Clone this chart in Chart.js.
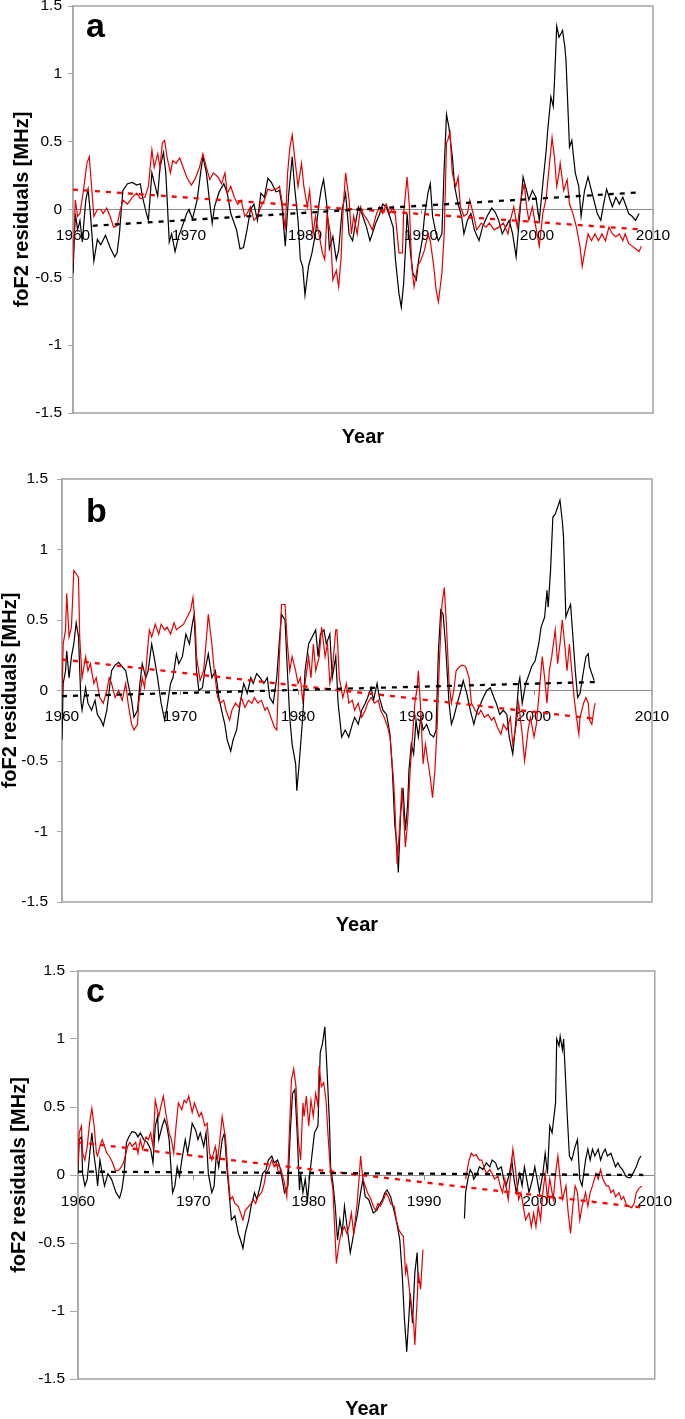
<!DOCTYPE html>
<html><head><meta charset="utf-8">
<script src="https://cdn.jsdelivr.net/npm/chart.js@4.4.1/dist/chart.umd.min.js"></script>
<style>
html,body{margin:0;padding:0;background:#fff;}
#wrap{position:relative;width:685px;height:1419px;overflow:hidden;}
canvas{position:absolute;left:0;}
</style></head><body>
<div id="wrap">
<canvas id="ca" width="685" height="460" style="top:0px"></canvas>
<canvas id="cb" width="685" height="470" style="top:470px"></canvas>
<canvas id="cc" width="685" height="479" style="top:940px"></canvas>
</div>
<script>
const xTickValues = [1960,1970,1980,1990,2000,2010];
const xTickLabels = ['1960','1970','1980','1990','2000','2010'];
const yTickValues = [-1.5,-1,-0.5,0,0.5,1,1.5];
const yTickLabels = ['-1.5','-1','-0.5','0','0.5','1','1.5'];
const panelLetters = ['a','b','c'];
const yTitle = 'foF2 residuals [MHz]';
const xTitle = 'Year';

// Panel a  [year, residual MHz]
const aBlack = [[1960.0,-0.47],[1960.2,-0.03],[1960.4,-0.15],[1960.6,-0.08],[1960.8,-0.24],[1961.1,0.07],[1961.3,0.15],[1961.5,-0.03],[1961.8,-0.38],[1962.1,-0.22],[1962.4,-0.26],[1962.8,-0.19],[1963.2,-0.28],[1963.6,-0.35],[1963.8,-0.32],[1964.0,-0.18],[1964.3,0.14],[1964.7,0.19],[1965.1,0.2],[1965.5,0.18],[1965.8,0.19],[1966.0,0.09],[1966.3,-0.02],[1966.5,-0.08],[1966.8,0.27],[1967.0,0.2],[1967.3,0.1],[1967.5,0.31],[1967.8,0.42],[1968.0,0.27],[1968.3,-0.24],[1968.5,-0.18],[1968.8,-0.31],[1969.1,-0.2],[1969.4,-0.13],[1969.8,-0.03],[1970.0,0.0],[1970.3,-0.07],[1970.7,0.07],[1971.0,0.27],[1971.2,0.39],[1971.5,0.27],[1971.8,0.04],[1972.0,-0.1],[1972.2,0.02],[1972.6,0.13],[1973.0,0.19],[1973.3,0.12],[1973.6,-0.03],[1974.1,-0.15],[1974.4,-0.29],[1974.7,-0.28],[1975.0,-0.15],[1975.3,0.0],[1975.6,0.04],[1975.9,-0.08],[1976.2,0.12],[1976.5,0.09],[1976.8,0.23],[1977.1,0.2],[1977.5,0.13],[1977.8,0.14],[1978.0,0.04],[1978.3,-0.27],[1978.6,0.12],[1978.9,0.39],[1979.1,0.17],[1979.4,-0.08],[1979.6,-0.37],[1979.8,-0.42],[1980.0,-0.63],[1980.3,-0.42],[1980.6,-0.32],[1980.9,-0.18],[1981.2,0.04],[1981.4,0.15],[1981.6,0.22],[1981.9,0.02],[1982.1,-0.29],[1982.4,-0.2],[1982.7,-0.37],[1982.9,-0.3],[1983.2,0.0],[1983.5,0.12],[1983.8,-0.18],[1984.1,-0.23],[1984.3,-0.13],[1984.6,0.02],[1984.9,-0.03],[1985.3,-0.13],[1985.6,-0.23],[1985.8,-0.18],[1986.1,-0.1],[1986.4,-0.04],[1986.7,0.04],[1987.0,0.02],[1987.3,-0.05],[1987.6,-0.13],[1987.8,-0.37],[1988.1,-0.62],[1988.3,-0.72],[1988.5,-0.55],[1988.7,-0.23],[1988.8,-0.03],[1989.1,-0.32],[1989.3,-0.47],[1989.6,-0.52],[1989.8,-0.37],[1990.1,-0.23],[1990.3,-0.05],[1990.6,0.12],[1990.8,0.19],[1991.0,-0.05],[1991.3,-0.18],[1991.5,-0.23],[1991.8,-0.18],[1992.0,0.31],[1992.2,0.7],[1992.4,0.61],[1992.7,0.39],[1992.9,0.17],[1993.2,0.04],[1993.5,-0.05],[1993.7,-0.18],[1994.0,-0.08],[1994.3,-0.03],[1994.6,-0.15],[1995.0,-0.23],[1995.3,-0.13],[1995.7,-0.05],[1996.1,0.01],[1996.4,-0.02],[1996.7,-0.08],[1997.0,-0.18],[1997.3,-0.13],[1997.6,-0.08],[1997.9,-0.18],[1998.2,-0.35],[1998.5,-0.05],[1998.8,0.24],[1999.1,0.14],[1999.3,0.07],[1999.6,0.14],[1999.9,0.09],[2000.2,-0.08],[2000.5,0.19],[2000.8,0.44],[2000.9,0.56],[2001.2,0.83],[2001.4,0.76],[2001.5,0.93],[2001.7,1.35],[2001.9,1.27],[2002.2,1.32],[2002.4,1.2],[2002.5,1.1],[2002.8,0.46],[2003.0,0.51],[2003.3,0.27],[2003.6,0.17],[2003.8,-0.05],[2004.1,0.14],[2004.4,0.24],[2004.6,0.17],[2004.9,0.07],[2005.2,-0.03],[2005.5,-0.08],[2005.7,0.02],[2006.0,0.15],[2006.3,0.07],[2006.5,0.02],[2006.8,0.09],[2007.1,0.04],[2007.4,0.09],[2007.7,0.02],[2007.9,-0.03],[2008.2,-0.05],[2008.5,-0.08],[2008.8,-0.03]];
const aRed = [[1960.0,-0.4],[1960.2,0.07],[1960.4,-0.05],[1960.6,-0.03],[1960.9,0.14],[1961.2,0.34],[1961.4,0.39],[1961.6,0.17],[1961.8,-0.05],[1962.1,0.0],[1962.4,0.0],[1962.6,-0.03],[1962.9,0.01],[1963.2,-0.05],[1963.5,-0.13],[1963.8,-0.12],[1964.0,-0.03],[1964.3,0.07],[1964.7,0.04],[1965.1,0.09],[1965.5,0.12],[1965.8,0.08],[1966.2,0.09],[1966.5,0.17],[1966.8,0.44],[1967.0,0.31],[1967.3,0.41],[1967.5,0.31],[1967.7,0.49],[1967.9,0.51],[1968.1,0.39],[1968.4,0.27],[1968.6,0.36],[1968.9,0.34],[1969.2,0.38],[1969.5,0.31],[1969.8,0.24],[1970.2,0.18],[1970.5,0.22],[1970.9,0.31],[1971.2,0.41],[1971.5,0.31],[1971.8,0.22],[1972.1,0.27],[1972.5,0.24],[1972.8,0.19],[1973.1,0.27],[1973.3,0.12],[1973.6,0.17],[1973.9,0.09],[1974.2,0.04],[1974.5,0.07],[1974.8,-0.05],[1975.0,-0.03],[1975.3,0.02],[1975.6,-0.08],[1975.9,-0.05],[1976.2,0.02],[1976.5,0.07],[1976.8,0.15],[1977.1,0.14],[1977.5,0.15],[1977.8,0.17],[1978.0,0.07],[1978.3,-0.15],[1978.5,0.27],[1978.7,0.46],[1978.9,0.55],[1979.1,0.39],[1979.4,0.17],[1979.7,0.34],[1979.9,0.17],[1980.2,0.02],[1980.4,0.14],[1980.7,-0.18],[1980.9,-0.05],[1981.2,-0.18],[1981.5,-0.32],[1981.7,-0.37],[1981.9,-0.03],[1982.2,-0.18],[1982.4,-0.52],[1982.7,-0.45],[1982.9,-0.57],[1983.1,-0.37],[1983.3,0.02],[1983.5,0.27],[1983.8,0.07],[1984.0,-0.18],[1984.2,-0.05],[1984.5,-0.18],[1984.8,0.02],[1985.0,-0.03],[1985.4,-0.08],[1985.8,-0.15],[1986.1,-0.05],[1986.4,0.02],[1986.7,-0.03],[1987.0,0.04],[1987.3,-0.03],[1987.6,0.02],[1987.8,-0.05],[1988.1,-0.32],[1988.4,-0.32],[1988.5,-0.03],[1988.8,0.24],[1989.0,0.02],[1989.2,-0.42],[1989.4,-0.57],[1989.7,-0.42],[1990.0,-0.37],[1990.3,-0.3],[1990.6,-0.18],[1990.8,-0.23],[1991.1,-0.42],[1991.3,-0.59],[1991.5,-0.68],[1991.8,-0.47],[1992.0,-0.18],[1992.2,0.49],[1992.3,0.51],[1992.5,0.57],[1992.7,0.27],[1993.0,0.17],[1993.2,0.24],[1993.4,0.02],[1993.7,-0.05],[1994.0,-0.03],[1994.2,0.07],[1994.5,-0.03],[1994.8,-0.15],[1995.2,-0.1],[1995.6,-0.13],[1995.9,-0.1],[1996.3,-0.15],[1996.7,-0.13],[1997.1,-0.1],[1997.5,-0.18],[1997.7,-0.08],[1998.0,0.02],[1998.3,-0.13],[1998.6,0.07],[1998.9,0.19],[1999.1,0.02],[1999.3,-0.08],[1999.6,0.02],[1999.9,-0.13],[2000.2,-0.27],[2000.5,-0.03],[2000.8,0.09],[2001.0,0.27],[2001.3,0.53],[2001.5,0.39],[2001.7,0.17],[2001.9,0.27],[2002.0,0.34],[2002.3,0.14],[2002.6,0.22],[2002.8,0.04],[2003.1,-0.03],[2003.4,-0.13],[2003.7,-0.27],[2003.9,-0.42],[2004.1,-0.32],[2004.4,-0.18],[2004.7,-0.23],[2005.0,-0.18],[2005.3,-0.23],[2005.6,-0.18],[2005.9,-0.23],[2006.2,-0.13],[2006.5,-0.18],[2006.8,-0.2],[2007.1,-0.18],[2007.4,-0.23],[2007.6,-0.18],[2007.9,-0.25],[2008.2,-0.27],[2008.5,-0.29],[2008.8,-0.31],[2009.0,-0.27]];
const aBlackTrend = [[1961.7,-0.12],[2008.6,0.125]];
const aRedTrend = [[1960.0,0.147],[2009.0,-0.147]];

// Panel b
const bBlack = [[1960.0,-0.35],[1960.1,0.05],[1960.3,0.14],[1960.4,0.28],[1960.6,0.09],[1960.8,0.24],[1961.0,0.33],[1961.2,0.48],[1961.4,0.38],[1961.6,-0.07],[1961.7,-0.14],[1962.0,0.02],[1962.2,-0.09],[1962.5,-0.14],[1962.8,-0.07],[1963.0,-0.17],[1963.3,-0.21],[1963.5,-0.25],[1963.8,-0.14],[1964.0,0.0],[1964.2,0.14],[1964.5,0.18],[1964.8,0.2],[1965.1,0.17],[1965.4,0.14],[1965.6,0.05],[1965.9,-0.07],[1966.1,-0.19],[1966.4,-0.14],[1966.6,0.05],[1966.8,0.19],[1967.1,0.09],[1967.3,0.14],[1967.6,0.33],[1967.8,0.24],[1968.1,0.09],[1968.4,-0.09],[1968.7,-0.21],[1968.9,-0.12],[1969.2,0.05],[1969.4,0.09],[1969.7,0.26],[1969.9,0.19],[1970.2,0.24],[1970.5,0.4],[1970.8,0.33],[1971.0,0.45],[1971.2,0.54],[1971.4,0.14],[1971.6,0.0],[1971.9,0.02],[1972.1,0.14],[1972.4,0.26],[1972.7,0.09],[1973.0,0.14],[1973.3,-0.05],[1973.6,-0.17],[1973.8,-0.24],[1974.0,-0.35],[1974.3,-0.43],[1974.5,-0.35],[1974.8,-0.28],[1975.1,-0.09],[1975.4,0.05],[1975.7,-0.02],[1976.0,0.09],[1976.2,0.05],[1976.5,0.12],[1976.8,0.09],[1977.1,0.05],[1977.4,0.09],[1977.6,-0.05],[1977.9,-0.09],[1978.2,0.09],[1978.4,0.33],[1978.6,0.54],[1978.9,0.5],[1979.1,0.14],[1979.3,-0.19],[1979.5,-0.38],[1979.8,-0.52],[1979.9,-0.71],[1980.1,-0.52],[1980.4,-0.19],[1980.6,0.14],[1980.9,0.33],[1981.2,0.38],[1981.5,0.43],[1981.7,0.24],[1981.9,0.4],[1982.2,0.43],[1982.4,0.33],[1982.7,0.4],[1982.9,0.09],[1983.2,0.24],[1983.4,-0.09],[1983.7,-0.33],[1984.0,-0.28],[1984.3,-0.33],[1984.6,-0.24],[1984.8,-0.19],[1985.1,-0.24],[1985.4,-0.14],[1985.7,-0.09],[1985.9,-0.05],[1986.2,0.02],[1986.4,-0.07],[1986.7,0.05],[1986.9,-0.05],[1987.2,-0.14],[1987.5,-0.17],[1987.8,-0.31],[1988.0,-0.57],[1988.2,-0.95],[1988.4,-1.11],[1988.5,-1.29],[1988.7,-0.87],[1988.9,-0.69],[1989.1,-0.99],[1989.3,-0.8],[1989.4,-0.57],[1989.6,-0.38],[1989.8,-0.45],[1990.0,-0.21],[1990.2,-0.33],[1990.4,-0.19],[1990.6,-0.28],[1990.9,-0.24],[1991.2,-0.31],[1991.5,-0.33],[1991.7,-0.28],[1991.9,0.28],[1992.1,0.57],[1992.3,0.54],[1992.5,0.33],[1992.8,-0.09],[1993.0,-0.24],[1993.2,-0.19],[1993.5,-0.09],[1993.8,0.0],[1994.0,0.07],[1994.3,-0.02],[1994.6,-0.14],[1994.9,-0.24],[1995.2,-0.14],[1995.5,-0.09],[1995.7,-0.05],[1996.0,0.0],[1996.3,0.02],[1996.6,-0.05],[1996.8,-0.09],[1997.1,-0.17],[1997.4,-0.14],[1997.7,-0.17],[1997.9,-0.33],[1998.2,-0.45],[1998.4,-0.28],[1998.7,0.05],[1998.8,0.09],[1999.0,-0.09],[1999.3,0.05],[1999.6,0.12],[1999.8,0.17],[2000.1,0.21],[2000.4,0.33],[2000.6,0.45],[2000.9,0.52],[2001.1,0.71],[2001.2,0.59],[2001.4,0.85],[2001.6,1.23],[2001.8,1.25],[2002.0,1.3],[2002.2,1.35],[2002.4,1.2],[2002.5,1.09],[2002.7,0.52],[2002.9,0.57],[2003.1,0.61],[2003.3,0.38],[2003.5,0.14],[2003.7,-0.05],[2003.9,-0.02],[2004.2,0.14],[2004.4,0.24],[2004.6,0.26],[2004.7,0.17],[2004.9,0.12],[2005.1,0.07]];
const bRed = [[1960.0,-0.05],[1960.1,0.33],[1960.3,0.43],[1960.4,0.69],[1960.6,0.38],[1960.8,0.45],[1961.0,0.85],[1961.2,0.83],[1961.4,0.8],[1961.5,0.38],[1961.7,0.09],[1962.0,0.24],[1962.2,0.14],[1962.4,0.19],[1962.7,0.05],[1962.9,0.09],[1963.2,-0.05],[1963.5,-0.09],[1963.8,0.0],[1964.0,0.09],[1964.2,0.05],[1964.5,-0.05],[1964.8,0.0],[1965.1,-0.07],[1965.4,0.05],[1965.6,-0.09],[1965.9,-0.24],[1966.1,-0.28],[1966.4,-0.24],[1966.5,-0.09],[1966.8,0.09],[1967.0,0.02],[1967.2,0.24],[1967.4,0.43],[1967.6,0.38],[1967.9,0.47],[1968.2,0.4],[1968.4,0.47],[1968.7,0.43],[1968.9,0.45],[1969.2,0.4],[1969.5,0.48],[1969.7,0.43],[1970.0,0.45],[1970.3,0.47],[1970.6,0.52],[1970.9,0.57],[1971.1,0.66],[1971.3,0.45],[1971.4,0.24],[1971.7,0.07],[1972.0,0.14],[1972.2,0.33],[1972.4,0.54],[1972.7,0.33],[1972.9,0.14],[1973.2,-0.05],[1973.4,-0.09],[1973.7,-0.07],[1973.9,-0.14],[1974.2,-0.21],[1974.4,-0.14],[1974.7,-0.09],[1975.0,-0.12],[1975.2,-0.05],[1975.5,-0.12],[1975.8,-0.07],[1976.1,-0.09],[1976.3,-0.05],[1976.6,-0.09],[1976.9,-0.07],[1977.2,-0.14],[1977.4,-0.12],[1977.7,-0.19],[1978.0,-0.26],[1978.2,-0.28],[1978.4,0.19],[1978.6,0.61],[1978.9,0.61],[1979.1,0.33],[1979.3,0.14],[1979.5,0.24],[1979.8,0.14],[1980.0,0.05],[1980.2,0.09],[1980.4,-0.07],[1980.6,0.05],[1980.9,0.24],[1981.1,0.09],[1981.3,0.33],[1981.5,0.14],[1981.8,0.24],[1982.0,0.45],[1982.3,0.24],[1982.5,0.33],[1982.7,0.05],[1982.9,0.14],[1983.2,0.43],[1983.3,0.43],[1983.5,0.09],[1983.8,-0.05],[1984.1,0.05],[1984.3,-0.09],[1984.6,-0.07],[1984.8,-0.14],[1985.1,-0.09],[1985.4,-0.19],[1985.7,-0.14],[1985.9,-0.09],[1986.2,-0.05],[1986.5,-0.09],[1986.8,-0.07],[1987.0,-0.14],[1987.3,-0.19],[1987.6,-0.26],[1987.8,-0.33],[1988.1,-0.64],[1988.2,-0.8],[1988.4,-1.23],[1988.6,-0.99],[1988.8,-0.69],[1988.9,-0.8],[1989.1,-1.11],[1989.3,-0.92],[1989.5,-0.57],[1989.7,-0.33],[1989.9,-0.09],[1990.1,0.02],[1990.2,0.14],[1990.4,-0.14],[1990.6,-0.52],[1990.8,-0.38],[1991.0,-0.5],[1991.2,-0.61],[1991.4,-0.76],[1991.6,-0.57],[1991.8,-0.24],[1992.0,0.24],[1992.2,0.61],[1992.4,0.73],[1992.6,0.43],[1992.8,0.05],[1993.0,-0.09],[1993.2,0.0],[1993.4,0.14],[1993.7,0.17],[1993.9,0.18],[1994.2,0.17],[1994.5,0.09],[1994.7,-0.09],[1995.0,-0.14],[1995.3,-0.17],[1995.5,-0.14],[1995.8,-0.19],[1996.1,-0.17],[1996.4,-0.21],[1996.6,-0.19],[1996.9,-0.26],[1997.2,-0.31],[1997.4,-0.24],[1997.7,-0.28],[1998.0,-0.19],[1998.2,-0.38],[1998.5,-0.24],[1998.7,-0.09],[1999.0,-0.31],[1999.2,-0.5],[1999.5,-0.28],[1999.7,-0.19],[2000.0,-0.33],[2000.2,-0.24],[2000.4,-0.05],[2000.7,0.24],[2000.9,0.09],[2001.1,-0.09],[2001.3,0.14],[2001.5,0.24],[2001.8,0.43],[2002.0,0.19],[2002.2,0.33],[2002.4,0.5],[2002.6,0.33],[2002.8,0.14],[2003.0,0.33],[2003.2,0.14],[2003.4,-0.05],[2003.6,-0.19],[2003.8,-0.31],[2003.9,-0.19],[2004.2,-0.09],[2004.4,-0.05],[2004.6,-0.09],[2004.7,-0.21],[2004.9,-0.24],[2005.1,-0.12],[2005.2,-0.09]];
const bBlackTrend = [[1960.0,-0.04],[2005.2,0.06]];
const bRedTrend = [[1960.0,0.22],[2005.2,-0.2]];

// Panel c (null = data gap)
const cBlack = [[1960.0,0.01],[1960.1,0.26],[1960.3,0.28],[1960.4,0.01],[1960.6,-0.08],[1960.8,-0.03],[1961.0,0.14],[1961.2,0.31],[1961.4,0.14],[1961.6,0.01],[1961.7,-0.08],[1961.9,0.11],[1962.1,0.01],[1962.3,-0.08],[1962.6,0.01],[1962.9,-0.03],[1963.1,-0.08],[1963.3,-0.13],[1963.6,-0.17],[1963.8,-0.11],[1964.0,0.01],[1964.2,0.24],[1964.4,0.28],[1964.7,0.32],[1965.0,0.31],[1965.2,0.28],[1965.4,0.31],[1965.7,0.26],[1966.0,0.24],[1966.3,0.19],[1966.5,0.09],[1966.7,0.36],[1966.9,0.43],[1967.0,0.26],[1967.3,0.36],[1967.5,0.41],[1967.7,0.36],[1967.9,0.26],[1968.2,-0.13],[1968.4,-0.08],[1968.6,0.06],[1968.8,-0.01],[1969.0,0.11],[1969.3,0.26],[1969.5,0.16],[1969.7,0.26],[1969.9,0.38],[1970.2,0.33],[1970.4,0.26],[1970.6,0.31],[1970.9,0.21],[1971.1,0.31],[1971.3,0.01],[1971.6,-0.13],[1971.8,-0.08],[1972.0,0.16],[1972.2,0.06],[1972.5,0.26],[1972.7,0.31],[1972.9,0.06],[1973.1,-0.13],[1973.3,-0.33],[1973.6,-0.3],[1973.9,-0.43],[1974.1,-0.48],[1974.3,-0.54],[1974.5,-0.43],[1974.8,-0.33],[1975.0,-0.23],[1975.3,-0.13],[1975.5,-0.18],[1975.8,-0.08],[1976.0,0.01],[1976.3,0.04],[1976.5,0.11],[1976.8,0.14],[1977.0,0.09],[1977.3,0.11],[1977.5,0.06],[1977.7,-0.03],[1977.9,-0.13],[1978.2,-0.08],[1978.4,0.31],[1978.6,0.6],[1978.8,0.63],[1979.0,0.31],[1979.2,-0.11],[1979.3,0.01],[1979.5,-0.13],[1979.7,-0.03],[1979.9,-0.18],[1980.1,0.01],[1980.3,0.16],[1980.5,0.31],[1980.8,0.36],[1981.0,0.9],[1981.2,0.97],[1981.4,1.09],[1981.6,0.75],[1981.8,0.38],[1981.9,0.06],[1982.1,-0.06],[1982.3,-0.23],[1982.5,-0.48],[1982.7,-0.33],[1982.9,-0.43],[1983.1,-0.23],[1983.4,-0.43],[1983.6,-0.57],[1983.8,-0.48],[1984.0,-0.38],[1984.2,-0.3],[1984.5,-0.13],[1984.7,-0.03],[1984.9,-0.16],[1985.2,-0.18],[1985.4,-0.23],[1985.6,-0.28],[1985.9,-0.26],[1986.2,-0.21],[1986.4,-0.18],[1986.6,-0.13],[1986.8,-0.11],[1987.1,-0.16],[1987.3,-0.23],[1987.5,-0.3],[1987.7,-0.38],[1987.9,-0.48],[1988.1,-0.72],[1988.3,-1.06],[1988.5,-1.3],[1988.7,-1.02],[1988.8,-0.87],[1989.0,-1.09],[1989.2,-0.72],[1989.4,-0.57],[1989.5,-0.79],[1989.7,-0.79],[1991.6,null],[1993.5,-0.32],[1993.6,-0.13],[1993.8,-0.03],[1994.0,0.04],[1994.2,0.01],[1994.3,-0.03],[1994.6,0.01],[1994.8,0.06],[1995.1,0.04],[1995.4,0.09],[1995.7,0.06],[1995.9,0.11],[1996.2,0.09],[1996.4,0.04],[1996.7,0.06],[1996.9,-0.03],[1997.1,-0.08],[1997.4,0.01],[1997.6,0.11],[1997.8,-0.03],[1998.0,-0.13],[1998.3,0.01],[1998.5,-0.08],[1998.7,0.06],[1998.9,-0.03],[1999.1,-0.13],[1999.4,-0.03],[1999.6,0.06],[1999.8,-0.03],[2000.0,-0.13],[2000.3,0.01],[2000.5,0.16],[2000.7,0.01],[2000.9,0.36],[2001.1,0.31],[2001.4,0.53],[2001.5,1.0],[2001.7,0.95],[2001.8,1.02],[2002.0,0.92],[2002.1,1.0],[2002.3,0.65],[2002.4,0.46],[2002.6,0.14],[2002.8,0.11],[2003.1,0.21],[2003.3,0.26],[2003.5,-0.03],[2003.7,-0.08],[2004.0,0.11],[2004.2,0.19],[2004.4,0.11],[2004.6,0.19],[2004.8,0.14],[2005.1,0.19],[2005.3,0.11],[2005.5,0.16],[2005.7,0.19],[2005.9,0.14],[2006.2,0.16],[2006.4,0.11],[2006.6,0.06],[2006.8,0.09],[2007.0,0.06],[2007.2,0.04],[2007.5,-0.01],[2007.7,-0.02],[2007.9,-0.02],[2008.1,0.01],[2008.4,0.06],[2008.6,0.11],[2008.8,0.14]];
const cRed = [[1960.0,0.06],[1960.1,0.31],[1960.3,0.36],[1960.4,0.16],[1960.6,0.11],[1960.8,0.21],[1961.0,0.38],[1961.2,0.49],[1961.4,0.36],[1961.6,0.16],[1961.7,0.14],[1961.9,0.21],[1962.1,0.26],[1962.3,0.21],[1962.5,0.16],[1962.7,0.14],[1963.0,0.09],[1963.2,0.04],[1963.4,0.03],[1963.6,0.04],[1963.9,0.08],[1964.1,0.14],[1964.3,0.21],[1964.5,0.24],[1964.7,0.21],[1965.0,0.24],[1965.2,0.16],[1965.4,0.26],[1965.6,0.19],[1965.9,0.28],[1966.1,0.26],[1966.3,0.31],[1966.5,0.21],[1966.7,0.55],[1967.0,0.43],[1967.2,0.51],[1967.4,0.58],[1967.6,0.46],[1967.9,0.31],[1968.1,0.26],[1968.3,0.16],[1968.5,0.36],[1968.7,0.53],[1969.0,0.48],[1969.2,0.55],[1969.4,0.53],[1969.6,0.58],[1969.9,0.46],[1970.1,0.53],[1970.3,0.48],[1970.5,0.43],[1970.7,0.46],[1971.0,0.36],[1971.2,0.38],[1971.4,0.16],[1971.6,0.11],[1971.9,0.21],[1972.1,0.11],[1972.3,0.26],[1972.5,0.43],[1972.8,0.26],[1973.0,0.01],[1973.2,-0.18],[1973.4,-0.16],[1973.6,-0.21],[1973.9,-0.23],[1974.1,-0.28],[1974.3,-0.33],[1974.5,-0.26],[1974.8,-0.23],[1975.0,-0.21],[1975.2,-0.18],[1975.4,-0.21],[1975.6,-0.16],[1975.9,-0.13],[1976.1,-0.08],[1976.3,0.01],[1976.5,0.04],[1976.8,0.11],[1977.0,0.06],[1977.2,0.09],[1977.4,0.01],[1977.6,0.04],[1977.9,-0.06],[1978.1,-0.16],[1978.3,0.26],[1978.5,0.7],[1978.7,0.78],[1978.9,0.65],[1979.1,0.26],[1979.3,0.11],[1979.5,0.53],[1979.6,0.43],[1979.8,0.58],[1980.0,0.36],[1980.2,0.55],[1980.4,0.43],[1980.6,0.6],[1980.8,0.51],[1980.9,0.8],[1981.1,0.65],[1981.3,0.68],[1981.5,0.55],[1981.7,0.26],[1981.9,0.01],[1982.1,-0.11],[1982.2,-0.3],[1982.4,-0.65],[1982.6,-0.52],[1982.8,-0.43],[1983.1,-0.38],[1983.3,-0.43],[1983.5,-0.38],[1983.7,-0.28],[1983.9,-0.43],[1984.2,-0.21],[1984.4,0.01],[1984.5,0.14],[1984.7,-0.03],[1984.9,-0.08],[1985.1,-0.13],[1985.4,-0.18],[1985.6,-0.23],[1985.8,-0.26],[1986.0,-0.21],[1986.2,-0.23],[1986.5,-0.18],[1986.7,-0.13],[1986.9,-0.16],[1987.1,-0.21],[1987.4,-0.23],[1987.6,-0.33],[1987.8,-0.4],[1988.0,-0.43],[1988.2,-0.45],[1988.4,-0.72],[1988.5,-0.67],[1988.7,-0.82],[1988.9,-0.97],[1989.1,-1.09],[1989.2,-1.25],[1989.4,-0.92],[1989.5,-0.72],[1989.7,-0.84],[1989.9,-0.55],[1991.7,null],[1993.6,-0.03],[1993.9,0.11],[1994.1,0.16],[1994.3,0.14],[1994.5,0.15],[1994.8,0.11],[1995.0,0.11],[1995.2,0.06],[1995.4,0.01],[1995.7,0.04],[1995.9,0.01],[1996.1,-0.03],[1996.4,-0.01],[1996.6,-0.08],[1996.8,-0.13],[1997.0,-0.03],[1997.3,-0.18],[1997.5,0.01],[1997.7,0.19],[1997.9,0.06],[1998.2,-0.18],[1998.4,-0.13],[1998.6,-0.23],[1998.8,-0.33],[1999.1,-0.28],[1999.3,-0.38],[1999.5,-0.28],[1999.7,-0.38],[1999.9,-0.23],[2000.1,-0.33],[2000.3,-0.13],[2000.5,0.01],[2000.7,-0.18],[2000.9,-0.03],[2001.2,-0.18],[2001.4,0.01],[2001.6,0.14],[2001.8,-0.03],[2002.0,-0.18],[2002.3,-0.08],[2002.5,-0.28],[2002.7,-0.43],[2002.9,-0.23],[2003.1,-0.08],[2003.3,-0.13],[2003.5,-0.33],[2003.7,-0.23],[2004.0,-0.13],[2004.2,-0.23],[2004.4,-0.13],[2004.6,-0.08],[2004.9,0.01],[2005.1,-0.03],[2005.3,0.04],[2005.5,-0.03],[2005.8,-0.08],[2006.0,-0.08],[2006.2,-0.13],[2006.4,-0.11],[2006.6,-0.16],[2006.9,-0.13],[2007.1,-0.18],[2007.3,-0.16],[2007.5,-0.21],[2007.7,-0.23],[2008.0,-0.24],[2008.2,-0.21],[2008.4,-0.13],[2008.6,-0.1],[2008.9,-0.08]];
const cBlackTrend = [[1960.0,0.025],[2009.0,0.0]];
const cRedTrend = [[1960.0,0.24],[2009.0,-0.24]];

const FONT = '"Liberation Sans", Arial, Helvetica, sans-serif';

const frameAndLetter = {
  id: 'frameAndLetter',
  beforeDatasetsDraw(chart, args, opts) {
    const a = chart.chartArea, ctx = chart.ctx;
    ctx.save();
    ctx.strokeStyle = '#a8a8a8';
    ctx.lineWidth = 1.6;
    ctx.strokeRect(a.left, a.top, a.right - a.left, a.bottom - a.top);
    ctx.restore();
  },
  afterDraw(chart, args, opts) {
    const ctx = chart.ctx;
    ctx.save();
    ctx.font = 'bold 34px ' + FONT;
    ctx.fillStyle = '#000';
    ctx.textBaseline = 'alphabetic';
    ctx.textAlign = 'left';
    ctx.fillText(opts.text, opts.x, opts.y);
    ctx.restore();
  }
};

const toXY = arr => arr.map(p => ({x: p[0], y: p[1]}));

function makePanel(id, letter, black, red, blackTrend, redTrend, g) {
  const cv = document.getElementById(id);
  const W = cv.width, H = cv.height;
  return new Chart(cv, {
    type: 'line',
    data: {
      datasets: [
        {data: toXY(blackTrend), borderColor: '#000', borderWidth: 2.3, borderDash: [5, 6], pointRadius: 0, fill: false},
        {data: toXY(redTrend), borderColor: '#ff0000', borderWidth: 2.3, borderDash: [5, 6], pointRadius: 0, fill: false},
        {data: toXY(red), borderColor: '#e60000', borderWidth: 1.2, pointRadius: 0, tension: 0, spanGaps: false, fill: false},
        {data: toXY(black), borderColor: '#000', borderWidth: 1.2, pointRadius: 0, tension: 0, spanGaps: false, fill: false}
      ]
    },
    options: {
      responsive: false,
      animation: false,
      events: [],
      parsing: true,
      layout: {padding: {left: 0, right: W - g.right, top: g.top, bottom: 0}},
      plugins: {
        legend: {display: false},
        tooltip: {enabled: false},
        frameAndLetter: {text: letter, x: g.letterX, y: g.letterY}
      },
      scales: {
        x: {
          type: 'linear', min: 1960, max: 2010, position: {y: 0},
          afterBuildTicks: s => { s.ticks = xTickValues.map(v => ({value: v})); },
          ticks: {callback: (v, i) => xTickLabels[i], color: '#000', font: {family: FONT, size: 15.5}, padding: 13, maxRotation: 0, autoSkip: false},
          grid: {display: true, drawOnChartArea: false, drawTicks: true, tickLength: 4, color: '#8a8a8a'},
          border: {display: true, color: '#8a8a8a', width: 1}
        },
        x2: {
          type: 'linear', min: 1960, max: 2010, position: 'bottom',
          ticks: {display: false},
          grid: {display: false, drawTicks: false},
          border: {display: false},
          title: {display: true, text: xTitle, color: '#000', font: {family: FONT, size: 20, weight: 'bold', lineHeight: 1}, padding: {top: 0, bottom: Math.max(0, H - g.yearY - 10)}},
          afterFit: s => { s.height = H - g.bottom; s.paddingLeft = 0; s.paddingRight = 0; }
        },
        y: {
          type: 'linear', min: -1.5, max: 1.5, position: 'left',
          afterBuildTicks: s => { s.ticks = yTickValues.map(v => ({value: v})); },
          ticks: {callback: (v, i) => yTickLabels[i], color: '#000', font: {family: FONT, size: 15.5}, padding: g.tickPad},
          grid: {display: true, drawOnChartArea: false, drawTicks: true, tickLength: g.tickLen, color: '#a8a8a8'},
          border: {display: true, color: '#a8a8a8', width: 1.6},
          title: {display: true, text: yTitle, color: '#000', font: {family: FONT, size: 20, weight: 'bold', lineHeight: 1}, padding: {top: g.yTitleX - 10, bottom: 0}},
          afterFit: s => { s.width = g.left; s.paddingTop = 0; s.paddingBottom = 0; }
        }
      }
    },
    plugins: [frameAndLetter]
  });
}

makePanel('ca', panelLetters[0], aBlack, aRed, aBlackTrend, aRedTrend,
  {left: 73, right: 653, top: 6, bottom: 413, yearY: 437, yTitleX: 22, tickLen: 5, tickPad: 6, letterX: 86, letterY: 37});
makePanel('cb', panelLetters[1], bBlack, bRed, bBlackTrend, bRedTrend,
  {left: 62, right: 652, top: 9, bottom: 432, yearY: 455, yTitleX: 10, tickLen: 5, tickPad: 9, letterX: 86, letterY: 52});
makePanel('cc', panelLetters[2], cBlack, cRed, cBlackTrend, cRedTrend,
  {left: 78, right: 667, top: 31, bottom: 439, yearY: 469, yTitleX: 19, tickLen: 8, tickPad: 5, letterX: 86, letterY: 62});
</script>
</body></html>
